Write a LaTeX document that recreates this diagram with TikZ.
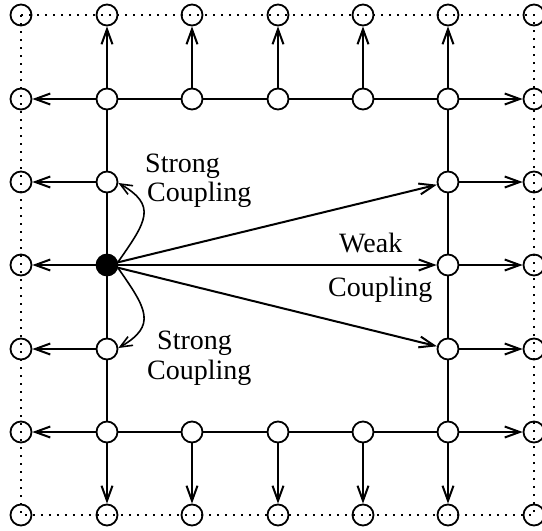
\documentclass[tikz,border=0pt]{standalone}
\usepackage{fontspec}
\setmainfont{Liberation Serif}
\usetikzlibrary{arrows.meta}
\begin{document}
\begin{tikzpicture}[x=1pt,y=1pt,
  outer/.style={circle,draw,line width=1.8pt,minimum size=21pt,inner sep=0pt},
  inner/.style={circle,draw,line width=1.8pt,minimum size=21pt,inner sep=0pt,fill=white},
  black/.style={circle,draw,line width=1.8pt,minimum size=21pt,inner sep=0pt,fill=black},
  dotline/.style={line width=1.8pt,dash pattern=on 2pt off 6pt},
  edge/.style={line width=2pt},
  arr/.style={line width=2pt,-{Straight Barb[length=15pt,width=11pt,line width=2pt]}},
  carr/.style={line width=1.6pt,-{Straight Barb[length=12pt,width=10pt,line width=1.6pt]}},
  lab/.style={font=\fontsize{28}{31}\selectfont,inner sep=0pt}
]
\useasboundingbox (0,0) rectangle (542,-531);
\foreach \i/\x in {0/21,1/107,2/192,3/278,4/363,5/448,6/534} {
  \foreach \j/\y in {0/15,1/99,2/182,3/265,4/349,5/432,6/515} {
    \coordinate (p-\i-\j) at (\x,-\y);
  }
}
% outer dotted square
\draw[dotline] (p-0-0) rectangle (p-6-6);
% outer circles
\foreach \i in {0,...,6} {
  \node[outer] (n-\i-0) at (p-\i-0) {};
  \node[outer] (n-\i-6) at (p-\i-6) {};
}
\foreach \j in {1,...,5} {
  \node[outer] (n-0-\j) at (p-0-\j) {};
  \node[outer] (n-6-\j) at (p-6-\j) {};
}
% inner circles
\foreach \i in {1,...,5} {
  \node[inner] (n-\i-1) at (p-\i-1) {};
  \node[inner] (n-\i-5) at (p-\i-5) {};
}
\foreach \j in {2,4} {
  \node[inner] (n-1-\j) at (p-1-\j) {};
  \node[inner] (n-5-\j) at (p-5-\j) {};
}
\node[inner] (n-5-3) at (p-5-3) {};
\node[black] (n-1-3) at (p-1-3) {};
% inner solid square
\draw[edge] (n-1-1) -- (n-2-1) -- (n-3-1) -- (n-4-1) -- (n-5-1)
  -- (n-5-2) -- (n-5-3) -- (n-5-4) -- (n-5-5)
  -- (n-4-5) -- (n-3-5) -- (n-2-5) -- (n-1-5)
  -- (n-1-4) -- (n-1-3) -- (n-1-2) -- (n-1-1);
% outward arrows
\foreach \i in {1,...,5} {
  \draw[arr] (n-\i-1) -- (n-\i-0);
  \draw[arr] (n-\i-5) -- (n-\i-6);
}
\foreach \j in {1,...,5} {
  \draw[arr] (n-1-\j) -- (n-0-\j);
  \draw[arr] (n-5-\j) -- (n-6-\j);
}
% weak coupling
\draw[arr] (n-1-3) -- (n-5-2);
\draw[arr] (n-1-3) -- (n-5-3);
\draw[arr] (n-1-3) -- (n-5-4);
% strong coupling
\draw[carr] (n-1-3.15) to[out=55,in=-30,out distance=50pt,in distance=45pt] (n-1-2.-5);
\draw[carr] (n-1-3.-15) to[out=-55,in=30,out distance=50pt,in distance=45pt] (n-1-4.5);
% labels
\node[lab,anchor=base west] (s1) at (145,-172) {Strong};
\node[lab,anchor=base west] (c1) at (147,-201) {Coupling};
\node[lab,anchor=base west] (s2) at (157,-349) {Strong};
\node[lab,anchor=base west] (c2) at (147,-379) {Coupling};
\node[lab,anchor=base west] (w3) at (339,-252) {Weak};
\node[lab,anchor=base west] (c3) at (328,-296) {Coupling};
\end{tikzpicture}
\end{document}
